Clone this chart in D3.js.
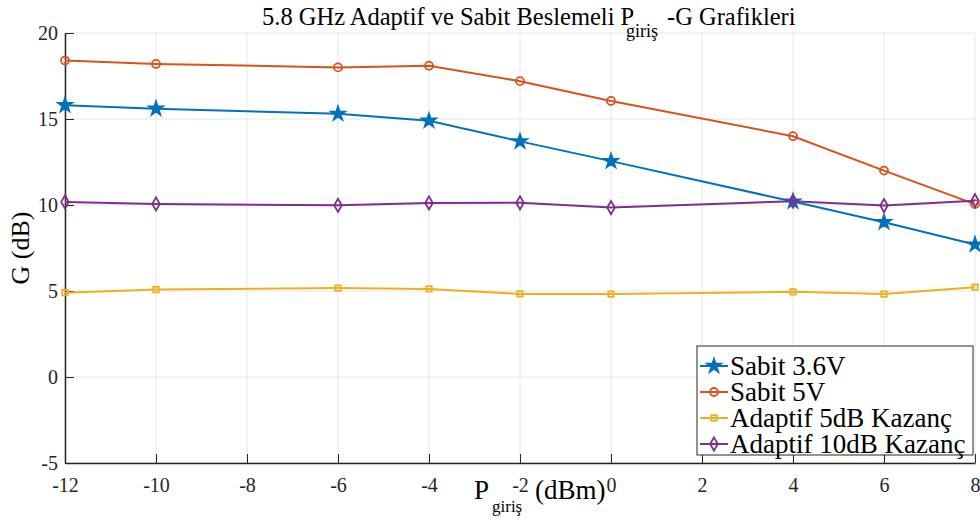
<!DOCTYPE html>
<html>
<head>
<meta charset="utf-8">
<script src="https://cdn.jsdelivr.net/npm/d3@7"></script>
<style>
  body { margin: 0; background: #fff; }
  text { font-family: "Liberation Serif", "Times New Roman", serif; }
</style>
</head>
<body>
<svg width="980" height="523"></svg>
<script>
// data
const pIn = [-12, -10, -6, -4, -2, 0, 4, 6, 8]
const sabit36 = [15.8, 15.6, 15.3, 14.9, 13.7, 12.55, 10.2, 9.0, 7.7]
const sabit5 = [18.4, 18.2, 18.0, 18.1, 17.2, 16.05, 14.0, 12.0, 10.05]
const adaptif5 = [4.9, 5.08, 5.17, 5.12, 4.83, 4.82, 4.95, 4.82, 5.22]
const adaptif10 = [10.18, 10.06, 9.98, 10.12, 10.13, 9.85, 10.22, 9.97, 10.25]
const xTicks = [-12, -10, -8, -6, -4, -2, 0, 2, 4, 6, 8]
const yTicks = [-5, 0, 5, 10, 15, 20]

const seriesList = [
  {name: 'Sabit 3.6V', values: sabit36, color: '#0072BD', marker: 'star'},
  {name: 'Sabit 5V', values: sabit5, color: '#D95319', marker: 'circle'},
  {name: 'Adaptif 5dB Kazanç', values: adaptif5, color: '#EDB120', marker: 'square'},
  {name: 'Adaptif 10dB Kazanç', values: adaptif10, color: '#7E2F8E', marker: 'diamond'}
]

const svg = d3.select('svg')
const mLeft = 65, mRight = 975, mTop = 33, mBottom = 463
const serif = '"Liberation Serif", "Times New Roman", serif'

const x = d3.scaleLinear().domain([-12, 8]).range([mLeft, mRight])
const y = d3.scaleLinear().domain([-5, 20]).range([mBottom, mTop])

// grid
const grid = svg.append('g')
grid.selectAll('.gx').data(xTicks).enter().append('line')
    .attr('x1', d => x(d)).attr('x2', d => x(d))
    .attr('y1', mTop).attr('y2', mBottom)
    .attr('stroke', '#e6e6e6').attr('stroke-width', 1)
grid.selectAll('.gy').data(yTicks).enter().append('line')
    .attr('y1', d => y(d)).attr('y2', d => y(d))
    .attr('x1', mLeft).attr('x2', mRight)
    .attr('stroke', '#e6e6e6').attr('stroke-width', 1)

// axes (ticks inside), plain hyphen minus like the original
const fmt = d => String(d)
const xAxis = svg.append('g')
    .attr('transform', `translate(0, ${mBottom})`)
    .call(d3.axisBottom(x).tickValues(xTicks).tickFormat(fmt).tickSizeInner(-9).tickSizeOuter(0).tickPadding(15))
const yAxis = svg.append('g')
    .attr('transform', `translate(${mLeft}, 0)`)
    .call(d3.axisLeft(y).tickValues(yTicks).tickFormat(fmt).tickSizeInner(-9).tickSizeOuter(0).tickPadding(7))
;[xAxis, yAxis].forEach(a => {
  a.attr('font-family', serif)
  a.select('.domain').attr('stroke', '#262626').attr('stroke-width', 1.5)
  a.selectAll('.tick line').attr('stroke', '#262626')
  a.selectAll('.tick text')
      .style('font-size', '20px').attr('fill', '#262626')
})

// lines and markers
const line = d3.line().x((d, i) => x(pIn[i])).y(d => y(d))
const symbols = {
  star: d3.symbol().type(d3.symbolStar).size(60),
  circle: d3.symbol().type(d3.symbolCircle).size(50),
  square: d3.symbol().type(d3.symbolSquare).size(30),
  diamond: d3.symbol().type(d3.symbolDiamond).size(50)
}

seriesList.forEach(s => {
  const g = svg.append('g')
  g.append('path')
      .attr('d', line(s.values))
      .attr('fill', 'none')
      .attr('stroke', s.color)
      .attr('stroke-width', 2)
  g.selectAll('path.m').data(s.values).enter().append('path')
      .attr('class', 'm')
      .attr('d', symbols[s.marker]())
      .attr('transform', (d, i) => `translate(${x(pIn[i])}, ${y(d)})`)
      .attr('fill', s.marker == 'star' ? s.color : 'none')
      .attr('stroke', s.color)
      .attr('stroke-width', 1.8)
})

// title
const title = svg.append('text')
    .attr('y', 25)
    .attr('font-family', serif)
    .style('font-size', '24.5px').attr('fill', '#000')
title.append('tspan').attr('x', 262).text('5.8 GHz Adaptif ve Sabit Beslemeli P')
title.append('tspan').attr('x', 626).attr('dy', 12).style('font-size', '18px').text('giriş')
title.append('tspan').attr('x', 667).attr('dy', -12).text('-G Grafikleri')

// x label
const xl = svg.append('text')
    .attr('y', 499)
    .attr('font-family', serif)
    .style('font-size', '27px').attr('fill', '#000')
xl.append('tspan').attr('x', 474).text('P')
xl.append('tspan').attr('x', 492).attr('dy', 13).style('font-size', '17px').text('giriş')
xl.append('tspan').attr('x', 535).attr('dy', -13).text('(dBm)')

// y label
svg.append('text')
    .attr('transform', `translate(29, 248) rotate(-90)`)
    .attr('text-anchor', 'middle')
    .attr('font-family', serif)
    .style('font-size', '26px').attr('fill', '#000')
    .text('G (dB)')

// legend
const lg = svg.append('g').attr('transform', 'translate(697, 346)')
lg.append('rect')
    .attr('width', 276).attr('height', 109)
    .attr('fill', '#fff').attr('stroke', '#262626').attr('stroke-width', 1)
seriesList.forEach((s, i) => {
  const ly = 20 + i * 26
  lg.append('line')
      .attr('x1', 3).attr('x2', 31).attr('y1', ly).attr('y2', ly)
      .attr('stroke', s.color).attr('stroke-width', 2)
  lg.append('path')
      .attr('d', symbols[s.marker]())
      .attr('transform', `translate(17, ${ly})`)
      .attr('fill', s.marker == 'star' ? s.color : 'none')
      .attr('stroke', s.color).attr('stroke-width', 1.8)
  lg.append('text')
      .attr('x', 33).attr('y', ly + 9)
      .attr('font-family', serif)
      .style('font-size', '27px').attr('fill', '#000')
      .text(s.name)
})
</script>
</body>
</html>
